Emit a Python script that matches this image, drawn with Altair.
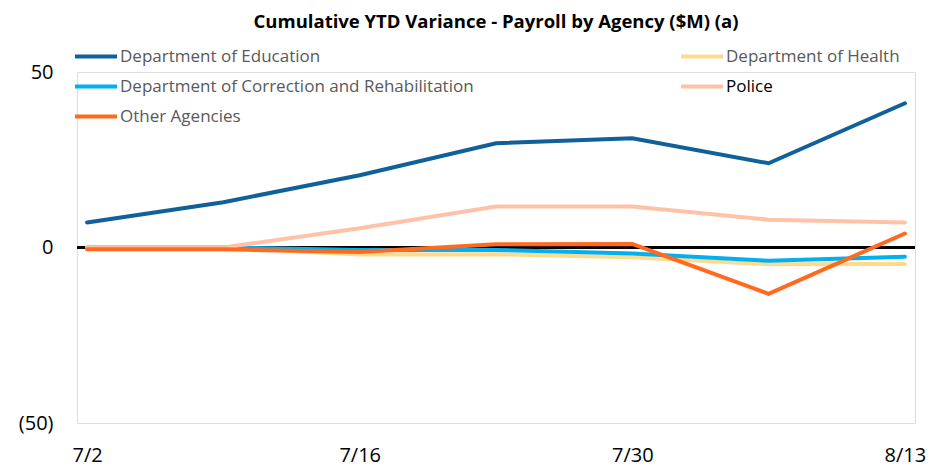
import altair as alt
import pandas as pd

dates = ["7/2", "7/9", "7/16", "7/23", "7/30", "8/6", "8/13"]
series = [
    "Department of Education",
    "Department of Health",
    "Department of Correction and Rehabilitation",
    "Police",
    "Other Agencies",
]
education = [7.1, 12.9, 20.6, 29.7, 31.1, 24.0, 41.1]
health = [0.0, 0.0, -2.0, -1.9, -2.8, -4.8, -4.7]
correction = [0.0, 0.0, -0.7, -0.7, -1.7, -3.8, -2.6]
police = [0.0, 0.0, 5.5, 11.7, 11.7, 7.9, 7.1]
other = [-0.5, -0.5, -1.3, 0.9, 1.0, -13.2, 4.0]
colors = ["#10609A", "#FFD98C", "#00B0F0", "#FFC2A6", "#FF6A1F"]
x_labels = ["7/2", "7/16", "7/30", "8/13"]
y_ticks = [-50, 0, 50]

values = [education, health, correction, police, other]
rows = []
for s, vals in zip(series, values):
    for d, v in zip(dates, vals):
        rows.append({"date": d, "agency": s, "value": v})
df = pd.DataFrame(rows)

FONT = "Open Sans"

x_enc = alt.X(
    "date:O",
    sort=dates,
    scale=alt.Scale(type="point", padding=0.074),
    axis=alt.Axis(
        values=x_labels,
        labelAngle=0,
        domain=False,
        ticks=False,
        grid=False,
        labelPadding=22,
        labelFontSize=20,
        labelFont=FONT,
        labelColor="black",
        title=None,
    ),
)
y_scale = alt.Scale(domain=[-50, 50], nice=False)

zero = alt.Chart(df).mark_rule(color="black", strokeWidth=1.5).encode(
    y=alt.datum(0, scale=y_scale)
)

lines = alt.Chart(df).mark_line(strokeWidth=4, strokeCap="round").encode(
    x=x_enc,
    y=alt.Y(
        "value:Q",
        scale=y_scale,
        axis=alt.Axis(
            values=y_ticks,
            labelExpr="datum.value < 0 ? '(' + format(abs(datum.value), 'd') + ')' : datum.label + '\u2009'",
            domain=False,
            ticks=False,
            grid=False,
            labelPadding=24,
            labelFontSize=20,
            labelFont=FONT,
            labelColor="black",
            title=None,
        ),
    ),
    color=alt.Color(
        "agency:N",
        scale=alt.Scale(domain=series, range=colors),
        legend=alt.Legend(
            title=None,
            orient="none",
            legendX=-4,
            legendY=-25,
            direction="horizontal",
            columns=2,
            columnPadding=205,
            rowPadding=11,
            clipHeight=19,
            symbolType="stroke",
            symbolSize=1764,
            symbolStrokeWidth=4,
            labelFont=FONT,
            labelFontSize=17,
            labelOffset=1,
            labelLimit=500,
            labelColor=alt.ExprRef("datum.label == 'Police' ? 'black' : '#595959'"),
        ),
    ),
    detail="agency:N",
)

chart = (
    alt.layer(zero, lines)
    .properties(
        width=838,
        height=351,
        title=alt.TitleParams(
            "Cumulative YTD Variance - Payroll by Agency ($M) (a)",
            font=FONT,
            fontSize=18.5,
            fontWeight="bold",
            color="black",
            anchor="middle",
            offset=16,
        ),
        autosize=alt.AutoSizeParams(type="none"),
        padding={"left": 69, "top": 64, "right": 26, "bottom": 46},
    )
    .configure_view(strokeWidth=0, stroke="transparent")
    .configure_axis(domain=False, grid=False, ticks=False)
    .configure(background="white")
)

chart.save("out.html", embed_options={"renderer": "svg", "actions": False})
